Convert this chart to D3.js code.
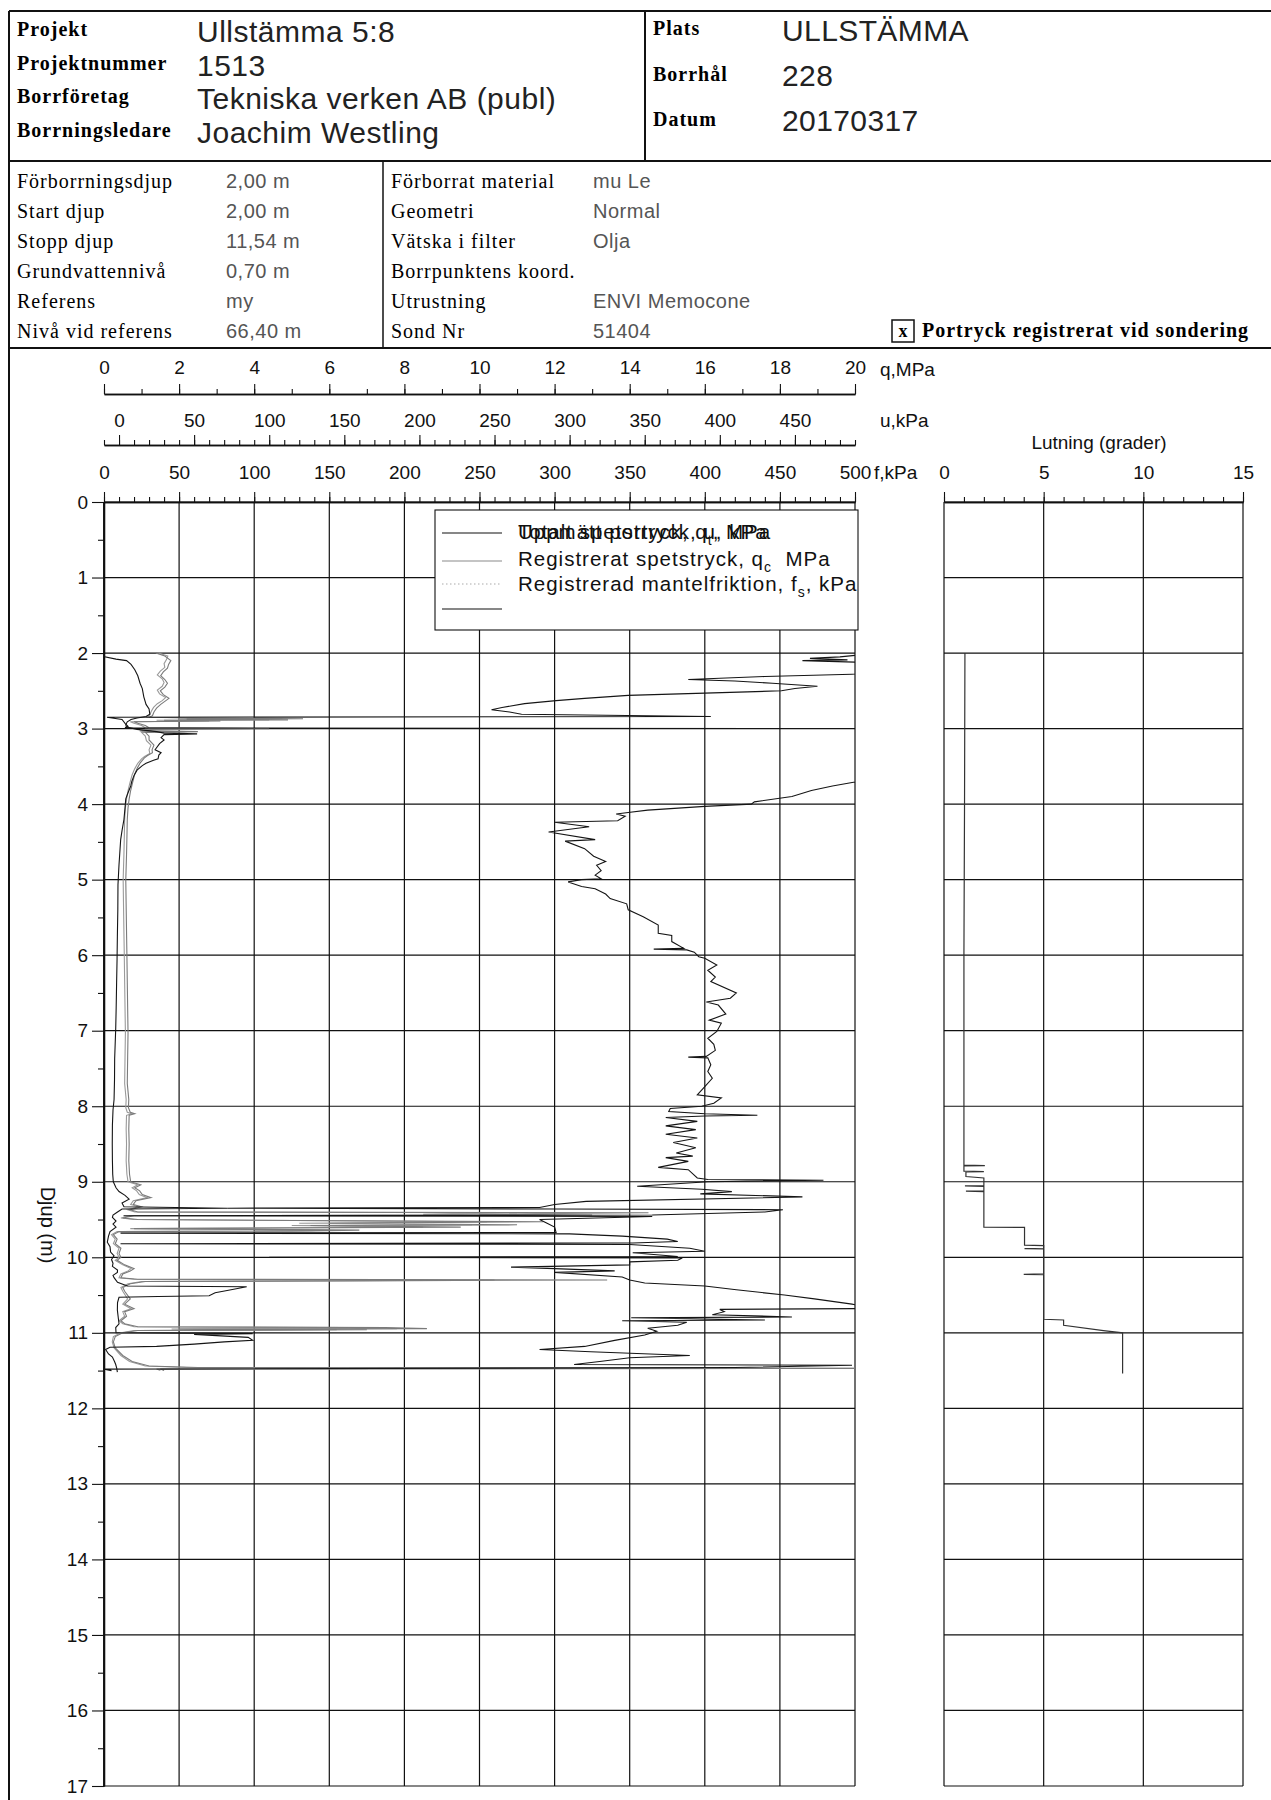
<!DOCTYPE html>
<html><head><meta charset="utf-8">
<script src="https://cdn.jsdelivr.net/npm/d3@7"></script>
<style>
body{margin:0;background:#fff;}
svg{display:block;}
</style></head><body>
<svg id="chart" width="1271" height="1800"></svg>
<script>
// ---- Sounding record: CPT (CPTU) with inclination ----
// depth [m] / value pairs per measured channel

// Total spetstryck q_t [MPa]
const qtData = [[2.00,1.38],[2.04,1.62],[2.10,1.78],[2.15,1.72],[2.20,1.69],[2.25,1.58],[2.30,1.51],[2.35,1.62],[2.40,1.69],[2.45,1.62],[2.50,1.50],[2.55,1.58],[2.60,1.73],[2.64,1.62],[2.68,1.51],[2.73,1.40],[2.78,1.33],[2.83,1.29],[2.85,1.2],[2.86,2.6],[2.87,5.3],[2.875,2.2],[2.885,4.9],[2.89,1.6],[2.90,3.1],[2.91,0.8],[2.93,0.9],[2.96,1.1],[2.99,1.2],[3.00,4.4],[3.01,1.3],[3.03,1.0],[3.04,2.5],[3.05,1.1],[3.10,1.2],[3.15,1.2],[3.22,1.33],[3.28,1.28],[3.32,1.29],[3.36,1.15],[3.39,1.07],[3.45,0.97],[3.52,0.89],[3.60,0.82],[3.72,0.76],[3.82,0.71],[3.93,0.67],[4.05,0.64],[4.20,0.62],[4.45,0.61],[4.67,0.60],[5.00,0.58],[5.35,0.59],[5.68,0.60],[6.00,0.61],[6.36,0.62],[6.70,0.63],[7.03,0.64],[7.35,0.63],[7.70,0.62],[7.91,0.66],[8.02,0.65],[8.08,0.70],[8.10,0.82],[8.12,0.67],[8.30,0.66],[8.50,0.67],[8.72,0.66],[8.90,0.68],[9.00,0.71],[9.04,0.98],[9.08,0.82],[9.12,0.95],[9.17,1.02],[9.21,1.25],[9.25,0.85],[9.30,0.78],[9.33,1.0],[9.37,0.7],[9.40,0.9],[9.41,14.5],[9.43,10],[9.44,13],[9.45,0.8],[9.48,0.5],[9.50,0.9],[9.53,11.7],[9.55,6],[9.57,11],[9.58,5.5],[9.60,9.5],[9.62,0.8],[9.64,6.8],[9.65,5.5],[9.66,0.4],[9.70,0.25],[9.76,0.35],[9.82,0.3],[9.88,0.45],[9.95,0.4],[10.00,0.45],[10.04,0.35],[10.10,0.55],[10.15,0.8],[10.18,0.7],[10.22,0.5],[10.27,0.45],[10.29,0.9],[10.30,13.4],[10.31,8],[10.32,1.1],[10.35,0.7],[10.40,0.5],[10.45,0.55],[10.55,0.7],[10.62,0.55],[10.68,0.8],[10.72,0.55],[10.78,0.6],[10.84,0.45],[10.88,0.55],[10.92,0.9],[10.93,7.5],[10.945,8.6],[10.95,2],[10.96,7.0],[10.97,0.9],[11.00,0.5],[11.05,0.3],[11.12,0.25],[11.20,0.3],[11.30,0.5],[11.38,0.75],[11.44,1.2],[11.46,2.5],[11.47,21],[11.48,1.5],[11.50,1.6]];

// Registrerat spetstryck q_c [MPa]
const qcData = [[2.00,1.45],[2.04,1.70],[2.09,1.66],[2.14,1.60],[2.19,1.62],[2.24,1.50],[2.29,1.42],[2.34,1.55],[2.39,1.60],[2.44,1.55],[2.49,1.42],[2.54,1.48],[2.59,1.64],[2.63,1.55],[2.67,1.42],[2.72,1.32],[2.77,1.26],[2.82,1.22],[2.85,1.15],[2.86,2.3],[2.87,4.7],[2.875,2.0],[2.885,4.4],[2.89,1.4],[2.90,2.8],[2.91,0.7],[2.93,0.8],[2.96,1.0],[2.99,1.1],[3.00,3.9],[3.01,1.2],[3.03,0.95],[3.04,2.2],[3.05,1.0],[3.10,1.1],[3.16,1.13],[3.22,1.25],[3.28,1.20],[3.33,1.22],[3.37,1.08],[3.40,1.00],[3.46,0.90],[3.53,0.82],[3.61,0.75],[3.72,0.69],[3.82,0.64],[3.93,0.60],[4.05,0.57],[4.20,0.55],[4.45,0.54],[4.67,0.53],[5.00,0.51],[5.35,0.52],[5.68,0.53],[6.00,0.54],[6.36,0.55],[6.70,0.56],[7.03,0.57],[7.35,0.56],[7.70,0.55],[7.91,0.59],[8.02,0.58],[8.08,0.62],[8.10,0.74],[8.12,0.60],[8.30,0.59],[8.50,0.60],[8.72,0.59],[8.90,0.61],[9.00,0.64],[9.04,0.90],[9.08,0.75],[9.12,0.87],[9.17,0.94],[9.21,1.15],[9.25,0.78],[9.30,0.71],[9.33,0.92],[9.37,0.63],[9.40,0.82],[9.41,11.0],[9.43,8.5],[9.44,11.5],[9.45,0.7],[9.48,0.45],[9.50,0.8],[9.53,10.2],[9.55,5.2],[9.57,9.8],[9.58,5.0],[9.60,8.5],[9.62,0.7],[9.64,6.0],[9.65,5.0],[9.66,0.35],[9.70,0.2],[9.76,0.3],[9.82,0.25],[9.88,0.4],[9.95,0.35],[10.00,0.4],[10.04,0.3],[10.10,0.5],[10.15,0.72],[10.18,0.64],[10.22,0.45],[10.27,0.4],[10.29,0.8],[10.30,10.4],[10.31,7],[10.32,1.0],[10.35,0.64],[10.40,0.45],[10.45,0.5],[10.55,0.63],[10.62,0.5],[10.68,0.72],[10.72,0.5],[10.78,0.55],[10.84,0.4],[10.88,0.5],[10.92,0.8],[10.93,6.5],[10.945,7.8],[10.95,1.8],[10.96,6.2],[10.97,0.8],[11.00,0.45],[11.05,0.25],[11.12,0.22],[11.20,0.27],[11.30,0.45],[11.38,0.68],[11.44,1.1],[11.46,2.2],[11.47,20.5],[11.48,1.4],[11.50,1.5]];

// Registrerad mantelfriktion f_s [kPa]
const fsData = [[2.00,0],[2.05,0.5],[2.08,8],[2.10,15],[2.15,18],[2.22,20.5],[2.30,22.5],[2.40,24],[2.47,25.5],[2.58,26.5],[2.68,28],[2.74,30],[2.81,30.5],[2.84,28],[2.86,22],[2.88,18],[2.91,15.5],[2.95,14.5],[2.98,15],[3.01,22],[3.04,35],[3.06,40],[3.07,62],[3.08,40],[3.12,38],[3.15,40],[3.20,37],[3.28,34],[3.32,38],[3.35,36.5],[3.40,36],[3.42,33],[3.46,28],[3.49,25.5],[3.55,22],[3.62,20],[3.70,18.5],[3.76,17.8],[3.85,16],[3.93,14.5],[4.05,14],[4.20,13.3],[4.35,12],[4.47,11.1],[4.65,10.5],[4.80,10],[5.07,9.3],[5.40,9.2],[5.75,8.9],[6.05,8.7],[6.36,8.4],[6.70,8.1],[6.97,7.8],[7.37,7.1],[7.65,7.0],[7.91,6.7],[8.05,6.0],[8.25,5.6],[8.50,5.5],[8.72,5.6],[8.90,5.8],[9.00,6.2],[9.08,8],[9.13,10],[9.18,14],[9.23,16.7],[9.28,12],[9.33,13.3],[9.35,82],[9.36,12],[9.40,9],[9.44,6],[9.47,5.6],[9.52,8],[9.56,6],[9.60,8],[9.66,4],[9.72,3],[9.80,2.2],[9.86,4],[9.93,4.4],[9.98,6.7],[10.03,5],[10.08,6],[10.12,5.6],[10.17,9],[10.20,8.9],[10.24,6],[10.27,6.7],[10.33,9],[10.38,15.6],[10.39,95],[10.44,82],[10.47,74],[10.51,70],[10.52,36],[10.53,10],[10.60,9],[10.70,8.9],[10.80,9.5],[10.88,10],[10.93,7.8],[11.00,8],[11.01,99],[11.02,60],[11.06,96],[11.10,99],[11.12,80],[11.15,60],[11.18,35],[11.19,4],[11.22,1.1],[11.28,3],[11.32,5.6],[11.38,7],[11.42,7.8],[11.47,8.5],[11.52,8.9]];

// Uppmätt portryck u [kPa]
const uData = [[2.02,495],[2.05,480],[2.07,460],[2.09,485],[2.10,455],[2.12,490],[2.14,510],[2.26,510],[2.28,488],[2.31,430],[2.35,379],[2.37,410],[2.40,435],[2.44,465],[2.47,450],[2.50,441],[2.53,390],[2.56,339],[2.60,310],[2.63,291],[2.67,270],[2.72,255],[2.75,248],[2.78,260],[2.81,268],[2.84,394],[2.85,-8],[2.88,2],[2.93,4],[2.97,6],[2.99,4],[3.00,520],[3.70,520],[3.71,489],[3.76,475],[3.82,461],[3.90,448],[3.97,423],[4.00,421],[4.03,390],[4.08,352],[4.11,339],[4.13,331],[4.16,337],[4.22,332],[4.24,290],[4.30,313],[4.37,286],[4.47,317],[4.49,297],[4.59,310],[4.69,316],[4.76,324],[4.81,318],[4.88,321],[4.94,317],[4.99,321],[5.00,308],[5.03,299],[5.09,308],[5.12,317],[5.19,324],[5.25,327],[5.32,338],[5.40,339],[5.49,349],[5.60,359],[5.71,359],[5.74,368],[5.82,368],[5.91,376],[5.92,356],[5.93,378],[5.96,383],[6.02,386],[6.04,390],[6.13,398],[6.20,392],[6.29,397],[6.35,394],[6.50,411],[6.57,407],[6.62,391],[6.66,399],[6.78,404],[6.86,393],[6.90,401],[7.01,398],[7.10,392],[7.18,396],[7.26,397],[7.34,391],[7.35,379],[7.36,392],[7.45,394],[7.54,392],[7.63,395],[7.74,390],[7.85,385],[7.89,401],[7.96,396],[8.00,388],[8.03,367],[8.07,366],[8.10,390],[8.12,425],[8.13,390],[8.15,364],[8.20,385],[8.26,364],[8.31,384],[8.37,364],[8.42,385],[8.48,369],[8.55,384],[8.62,371],[8.66,382],[8.68,364],[8.73,379],[8.81,359],[8.84,379],[8.95,385],[8.97,392],[8.98,469],[9.00,392],[9.06,345],[9.10,388],[9.13,408],[9.16,387],[9.20,455],[9.26,311],[9.30,290],[9.34,280],[9.35,72],[9.36,290],[9.37,442],[9.40,430],[9.44,355],[9.45,3],[9.46,355],[9.50,280],[9.55,285],[9.60,290],[9.67,291],[9.68,1],[9.69,300],[9.72,335],[9.76,365],[9.79,372],[9.81,342],[9.82,1],[9.83,340],[9.88,380],[9.92,390],[9.94,342],[9.99,372],[10.00,100],[10.01,375],[10.04,372],[10.06,340],[10.10,340],[10.13,261],[10.15,290],[10.18,330],[10.20,290],[10.26,335],[10.30,340],[10.34,350],[10.38,390],[10.43,411],[10.50,443],[10.55,463],[10.62,488],[10.65,495],[10.68,490],[10.69,400],[10.72,403],[10.76,395],[10.79,448],[10.80,341],[10.83,430],[10.84,335],[10.86,378],[10.90,372],[10.94,352],[10.98,358],[11.03,350],[11.10,330],[11.18,310],[11.22,280],[11.25,314],[11.30,380],[11.33,340],[11.38,320],[11.42,303],[11.43,488],[11.46,410],[11.48,-10],[11.50,-5]];

// Lutning [grader]
const lutData = [[2.00,1.05],[4.00,1.03],[6.00,1.0],[8.00,1.0],[8.78,1.0],[8.785,2.05],[8.79,1.0],[8.86,1.0],[8.865,2.0],[8.87,1.1],[8.93,1.1],[8.95,2.0],[9.05,2.0],[9.055,1.05],[9.06,2.0],[9.12,2.0],[9.125,1.1],[9.13,2.0],[9.60,2.0],[9.605,4.04],[9.84,4.04],[9.845,5.0],[9.88,5.0],[9.885,4.04],[9.89,5.0],[10.22,5.0],[10.225,4.0],[10.23,5.0],[10.82,5.0],[10.83,6.0],[10.90,6.0],[10.97,8.0],[11.00,8.96],[11.54,8.96]];

// axis tick values
const qMajor = d3.range(0, 21, 2);
const qMinor = d3.range(0, 21, 1);
const uMajor = d3.range(0, 451, 50);
const uMinor = d3.range(-10, 491, 10);
const fMajor = d3.range(0, 501, 50);
const fMinor = d3.range(0, 501, 10);
const lutMajor = [0, 5, 10, 15];
const lutMinor = d3.range(0, 16, 1);
const depthMajor = d3.range(0, 18, 1);
const depthMinor = d3.range(0.5, 17, 1);

// header fields
const headLeft = [["Projekt","Ullstämma 5:8"],["Projektnummer","1513"],["Borrföretag","Tekniska verken AB (publ)"],["Borrningsledare","Joachim Westling"]];
const headRight = [["Plats","ULLSTÄMMA"],["Borrhål","228"],["Datum","20170317"]];
const infoLeft = [["Förborrningsdjup","2,00 m"],["Start djup","2,00 m"],["Stopp djup","11,54 m"],["Grundvattennivå","0,70 m"],["Referens","my"],["Nivå vid referens","66,40 m"]];
const infoMid = [["Förborrat material","mu Le"],["Geometri","Normal"],["Vätska i filter","Olja"],["Borrpunktens koord.",""],["Utrustning","ENVI Memocone"],["Sond Nr","51404"]];

const SERIF = '"Liberation Serif","Times New Roman",serif';
const SANS = '"Liberation Sans",Arial,sans-serif';

const svg = d3.select("#chart");
svg.append("rect").attr("width",1271).attr("height",1800).attr("fill","#fff");

// ---------- frame ----------
const frame = svg.append("g").attr("stroke","#111").attr("fill","none");
frame.append("line").attr("x1",9).attr("x2",1271).attr("y1",11).attr("y2",11).attr("stroke-width",2);
frame.append("line").attr("x1",9).attr("x2",1271).attr("y1",161).attr("y2",161).attr("stroke-width",2);
frame.append("line").attr("x1",645).attr("x2",645).attr("y1",11).attr("y2",161).attr("stroke-width",2);
frame.append("line").attr("x1",383).attr("x2",383).attr("y1",161).attr("y2",348).attr("stroke-width",1.5);
frame.append("line").attr("x1",9).attr("x2",1271).attr("y1",348).attr("y2",348).attr("stroke-width",2);
frame.append("line").attr("x1",9).attr("x2",9).attr("y1",11).attr("y2",1800).attr("stroke-width",2);

// ---------- header ----------
const hl = svg.append("g");
const headLabelY = [36, 70, 103, 137];
const headValueY = [42, 76, 109, 143];
headLeft.forEach((r, i) => {
  hl.append("text").attr("x",17).attr("y",headLabelY[i]).text(r[0])
    .style("font-family",SERIF).style("font-weight","bold").style("font-size","20px").style("letter-spacing","1px");
  hl.append("text").attr("x",197).attr("y",headValueY[i]).text(r[1])
    .style("font-family",SANS).style("font-size","30px").style("letter-spacing","0.5px").attr("fill","#222");
});
const headRLabelY = [35, 81, 126];
const headRValueY = [41, 86, 131];
headRight.forEach((r, i) => {
  hl.append("text").attr("x",653).attr("y",headRLabelY[i]).text(r[0])
    .style("font-family",SERIF).style("font-weight","bold").style("font-size","20px").style("letter-spacing","1px");
  hl.append("text").attr("x",782).attr("y",headRValueY[i]).text(r[1])
    .style("font-family",SANS).style("font-size","30px").style("letter-spacing","0.4px").attr("fill","#222");
});

// ---------- info block ----------
const infoY = [188, 218, 248, 278, 308, 338];
infoLeft.forEach((r, i) => {
  hl.append("text").attr("x",17).attr("y",infoY[i]).text(r[0])
    .style("font-family",SERIF).style("font-size","20px").style("letter-spacing","1px");
  hl.append("text").attr("x",226).attr("y",infoY[i]).text(r[1])
    .style("font-family",SANS).style("font-size","20px").style("letter-spacing","0.5px").attr("fill","#555");
});
infoMid.forEach((r, i) => {
  hl.append("text").attr("x",391).attr("y",infoY[i]).text(r[0])
    .style("font-family",SERIF).style("font-size","20px").style("letter-spacing","1px");
  hl.append("text").attr("x",593).attr("y",infoY[i]).text(r[1])
    .style("font-family",SANS).style("font-size","20px").style("letter-spacing","0.5px").attr("fill","#555");
});
hl.append("rect").attr("x",892).attr("y",320).attr("width",22).attr("height",22)
  .attr("fill","none").attr("stroke","#111").attr("stroke-width",1.5);
hl.append("text").attr("x",903).attr("y",337).attr("text-anchor","middle").text("x")
  .style("font-family",SERIF).style("font-weight","bold").style("font-size","18px");
hl.append("text").attr("x",922).attr("y",337).text("Portryck registrerat vid sondering")
  .style("font-family",SERIF).style("font-weight","bold").style("font-size","20px").style("letter-spacing","1px");

// ---------- scales ----------
const y = d3.scaleLinear().domain([0, 17]).range([502, 1786]);
const xq = d3.scaleLinear().domain([0, 20]).range([104, 855]);
const xu = d3.scaleLinear().domain([-10, 490]).range([104, 855]);
const xf = d3.scaleLinear().domain([0, 500]).range([104, 855]);
const xl = d3.scaleLinear().domain([0, 15]).range([944, 1243]);

const AXIS_FONT = 19;
function styleAxis(g, size) {
  g.selectAll("path.domain").attr("stroke","#111").attr("stroke-width",1.3);
  g.selectAll(".tick line").attr("stroke","#111").attr("stroke-width",1.1);
  g.selectAll("text").style("font-family",SANS).style("font-size",size+"px").attr("fill","#111");
}
function topAxis(scale, yPos, majors, minors, pad, labels) {
  const gMin = svg.append("g").attr("transform",`translate(0,${yPos})`)
    .call(d3.axisTop(scale).tickValues(minors).tickSize(5).tickSizeOuter(0).tickFormat(""));
  styleAxis(gMin, AXIS_FONT);
  const gMaj = svg.append("g").attr("transform",`translate(0,${yPos})`)
    .call(d3.axisTop(scale).tickValues(majors).tickSize(10).tickSizeOuter(0).tickPadding(pad)
      .tickFormat(labels ? d3.format("d") : ""));
  styleAxis(gMaj, AXIS_FONT);
  return gMaj;
}

// ---------- top axes ----------
topAxis(xq, 394, qMajor, qMinor, 10, true);
topAxis(xu, 445, uMajor, uMinor, 8, true);
topAxis(xf, 502, fMajor, fMinor, 13, true);
topAxis(xl, 502, lutMajor, lutMinor, 13, true);

const axisTitles = [["q,MPa",880,376],["u,kPa",880,427],["f,kPa",874,479]];
axisTitles.forEach(t => svg.append("text").attr("x",t[1]).attr("y",t[2]).text(t[0])
  .style("font-family",SANS).style("font-size",AXIS_FONT+"px").attr("fill","#111"));
svg.append("text").attr("x",1099).attr("y",449).attr("text-anchor","middle").text("Lutning (grader)")
  .style("font-family",SANS).style("font-size",AXIS_FONT+"px").attr("fill","#111");

// ---------- depth axis ----------
const gDMin = svg.append("g").attr("transform","translate(104,0)")
  .call(d3.axisLeft(y).tickValues(depthMinor).tickSize(6).tickSizeOuter(0).tickFormat(""));
styleAxis(gDMin, AXIS_FONT);
const gDMaj = svg.append("g").attr("transform","translate(104,0)")
  .call(d3.axisLeft(y).tickValues(depthMajor).tickSize(12).tickSizeOuter(0).tickPadding(4).tickFormat(d3.format("d")));
styleAxis(gDMaj, AXIS_FONT);
svg.append("text").attr("transform","translate(41,1225) rotate(90)").attr("text-anchor","middle")
  .text("Djup (m)").style("font-family",SANS).style("font-size","20px").attr("fill","#111");

// ---------- grids ----------
const grid = svg.append("g").attr("stroke","#111").attr("stroke-width",1.2);
fMajor.forEach(v => grid.append("line").attr("x1",xf(v)).attr("x2",xf(v)).attr("y1",y(0)).attr("y2",y(17)));
depthMajor.forEach(d => grid.append("line").attr("x1",xf(0)).attr("x2",xf(500)).attr("y1",y(d)).attr("y2",y(d)));
lutMajor.forEach(v => grid.append("line").attr("x1",xl(v)).attr("x2",xl(v)).attr("y1",y(0)).attr("y2",y(17)));
depthMajor.forEach(d => grid.append("line").attr("x1",xl(0)).attr("x2",xl(15)).attr("y1",y(d)).attr("y2",y(d)));
grid.append("line").attr("x1",xf(0)).attr("x2",xf(0)).attr("y1",y(0)).attr("y2",y(17)).attr("stroke-width",1.8);

// ---------- measured curves ----------
svg.append("clipPath").attr("id","plotClip").append("rect")
  .attr("x",xf(0)).attr("y",y(0)).attr("width",xf(500)-xf(0)).attr("height",y(17)-y(0));
const plot = svg.append("g").attr("clip-path","url(#plotClip)").attr("fill","none");
const lineFor = sx => d3.line().x(d => sx(d[1])).y(d => y(d[0]));

plot.append("path").datum(qcData).attr("d",lineFor(xq)).attr("stroke","#9a9a9a").attr("stroke-width",1.1);
plot.append("path").datum(qtData).attr("d",lineFor(xq)).attr("stroke","#7a7a7a").attr("stroke-width",1.1);
plot.append("path").datum(fsData).attr("d",lineFor(xf)).attr("stroke","#151515").attr("stroke-width",1.1);
plot.append("path").datum(uData).attr("d",lineFor(xu)).attr("stroke","#151515").attr("stroke-width",1.1);

svg.append("path").datum(lutData).attr("d",lineFor(xl)).attr("fill","none").attr("stroke","#333").attr("stroke-width",1.2);

// ---------- legend ----------
const lg = svg.append("g");
lg.append("rect").attr("x",435).attr("y",510).attr("width",423).attr("height",120)
  .attr("fill","#fff").attr("stroke","#111").attr("stroke-width",1.1);
const legendRows = [
  {y:533, stroke:"#111", dash:null},
  {y:561, stroke:"#8a8a8a", dash:null},
  {y:584, stroke:"#aaa", dash:"1.5,2.5"},
  {y:609, stroke:"#111", dash:null}
];
legendRows.forEach(r => {
  const l = lg.append("line").attr("x1",442).attr("x2",502).attr("y1",r.y).attr("y2",r.y)
    .attr("stroke",r.stroke).attr("stroke-width",1.1);
  if (r.dash) l.attr("stroke-dasharray",r.dash);
});
// legend label: plain strings, {sub} for a subscript; the part after a subscript returns to the baseline
function legendText(yb, parts) {
  const t = lg.append("text").attr("x",518).attr("y",yb).attr("xml:space","preserve")
    .style("font-family",SANS).style("font-size","20.5px").style("letter-spacing","1px")
    .style("white-space","pre").attr("fill","#111");
  let shift = 0;
  parts.forEach(p => {
    if (typeof p === "string") {
      t.append("tspan").attr("dy",-shift).text(p);
      shift = 0;
    } else {
      t.append("tspan").attr("dy",6).style("font-size","14px").text(p.sub);
      shift = 6;
    }
  });
}
legendText(539, ["Totalt spetstryck, q", {sub:"t"}, ", MPa"]);
legendText(539, ["Uppmätt portryck, u, kPa"]);
legendText(566, ["Registrerat spetstryck, q", {sub:"c"}, "  MPa"]);
legendText(591, ["Registrerad mantelfriktion, f", {sub:"s"}, ", kPa"]);
</script>
</body></html>
